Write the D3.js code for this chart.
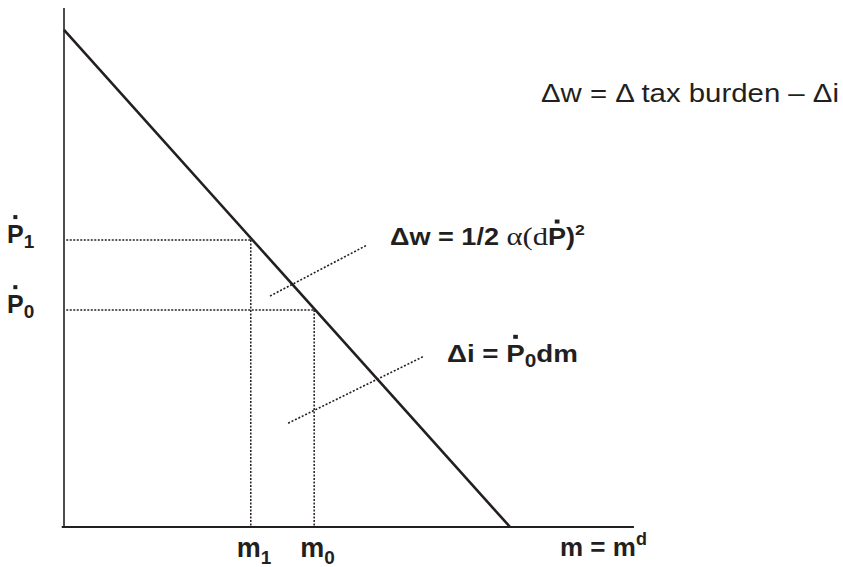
<!DOCTYPE html>
<html>
<head>
<meta charset="utf-8">
<script src="https://cdn.jsdelivr.net/npm/d3@7"></script>
<style>
  html, body { margin: 0; padding: 0; background: #fff; }
  svg { display: block; }
  .lbl { font-family: "Liberation Sans", Arial, sans-serif; fill: #231f20; }
</style>
</head>
<body>
<svg id="chart" width="843" height="567"></svg>
<script>
// demand curve m = m^d, endpoints (m, P)
const demandM = [0, 78.8];
const demandP = [95.8, 0];
// inflation levels and matching money holdings
const priceSubs = ['1', '0'];
const priceVals = [55.3, 41.8];
const moneyVals = [33.0, 44.2];
// leader lines from the areas to their labels: [m0, P0, m1, P1]
const leaders = [
  [36.4, 44.5, 53.5, 54.3],
  [39.6, 20.0, 63.4, 32.8]
];

const svg = d3.select('#chart');
const x = d3.scaleLinear().domain([0, 100]).range([64, 630]);
const y = d3.scaleLinear().domain([0, 100]).range([527, 8]);
const ink = '#231f20';

// axes (plain lines, no ticks)
svg.append('line').attr('x1', x(0)).attr('y1', y(0)).attr('x2', x(0)).attr('y2', y(100))
  .attr('stroke', ink).attr('stroke-width', 1.6);
svg.append('line').attr('x1', x(-0.4)).attr('y1', y(0)).attr('x2', x(100.7)).attr('y2', y(0))
  .attr('stroke', ink).attr('stroke-width', 2);

// dotted guides
priceVals.forEach((p, i) => {
  const m = moneyVals[i];
  svg.append('line').attr('x1', x(0.4)).attr('y1', y(p)).attr('x2', x(m)).attr('y2', y(p))
    .attr('stroke', ink).attr('stroke-width', 1.5).attr('stroke-dasharray', '2 1.5');
  svg.append('line').attr('x1', x(m)).attr('y1', y(p)).attr('x2', x(m)).attr('y2', y(0))
    .attr('stroke', ink).attr('stroke-width', 1.5).attr('stroke-dasharray', '2 1.5');
});
leaders.forEach(l => {
  svg.append('line').attr('x1', x(l[0])).attr('y1', y(l[1])).attr('x2', x(l[2])).attr('y2', y(l[3]))
    .attr('stroke', ink).attr('stroke-width', 1.6).attr('stroke-dasharray', '2 1.8');
});

// demand line
svg.append('path')
  .attr('d', d3.line()(demandM.map((m, i) => [x(m), y(demandP[i])])))
  .attr('fill', 'none').attr('stroke', ink).attr('stroke-width', 2.6);

// a label is a group so it can be stretched sideways to the scanned width
function label(x0, base, size) {
  const g = svg.append('g');
  const t = g.append('text').attr('class', 'lbl')
    .attr('x', x0).attr('y', base).attr('font-size', size).attr('font-weight', 'bold');
  return { g, t, x0, base, size };
}
// dot above character idx (the time derivative mark)
function dotOver(L, idx, gap) {
  const ext = L.t.node().getExtentOfChar(idx);
  const top = L.base - L.size * 0.716 - gap;
  L.g.append('rect')
    .attr('x', ext.x + ext.width / 2 - 2).attr('y', top - 4)
    .attr('width', 4).attr('height', 4).attr('fill', ink);
}
function stretch(L, width) {
  const w = L.t.node().getBBox().width;
  const sx = width / w;
  L.g.attr('transform', `translate(${L.x0},0) scale(${sx},1) translate(${-L.x0},0)`);
}

// P-dot labels on the y axis
priceVals.forEach((p, i) => {
  const L = label(7, y(p) + 3, 25);
  L.t.append('tspan').text('P');
  L.t.append('tspan').attr('dy', 5).attr('font-size', 19).text(priceSubs[i]);
  dotOver(L, 0, 6);
});

// m labels on the x axis
moneyVals.forEach((m, i) => {
  const L = label(x(m) - 14, 557, 27);
  L.t.append('tspan').text('m');
  L.t.append('tspan').attr('dy', 7).attr('font-size', 19).text(priceSubs[i]);
});
const md = label(560, 556, 26);
md.t.append('tspan').text('m = m');
md.t.append('tspan').attr('dy', -11).attr('font-size', 18).text('d');

// welfare cost label
const L1 = label(390, 245, 23);
L1.t.append('tspan').text('\u0394w = 1/2 ');
L1.t.append('tspan').attr('font-family', '"Liberation Serif", serif').attr('font-weight', 'normal')
  .attr('font-size', 26).text('\u03b1(d');
L1.t.append('tspan').text('P)');
L1.t.append('tspan').attr('dy', -10).attr('font-size', 15).text('2');
dotOver(L1, 12, 5);
stretch(L1, 195);

// inflation tax label
const L2 = label(447, 362, 24);
L2.t.append('tspan').text('\u0394i = P');
L2.t.append('tspan').attr('dy', 5).attr('font-size', 18).text('0');
L2.t.append('tspan').attr('dy', -5).text('dm');
dotOver(L2, 5, 6);
stretch(L2, 131);

// identity at the top right
svg.append('text').attr('class', 'lbl')
  .attr('x', 541).attr('y', 102).attr('font-size', 25)
  .attr('textLength', 298).attr('lengthAdjust', 'spacingAndGlyphs')
  .text('\u0394w = \u0394 tax burden \u2013 \u0394i');
</script>
</body>
</html>
